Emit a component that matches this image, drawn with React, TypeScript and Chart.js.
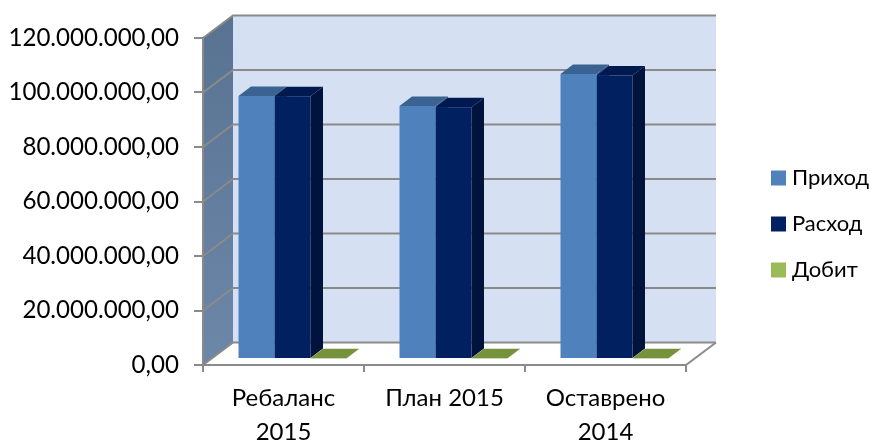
import React, { useEffect, useRef } from "react";
import { Chart, registerables } from "chart.js";

Chart.register(...registerables);

const categories = [["Ребаланс", "2015"], "План 2015", ["Оставрено", "2014"]];
const income = [96500000, 92800000, 104600000];
const expense = [96400000, 92400000, 104000000];
const profit = [300000, 300000, 300000];
const FONT = "Lato, 'Open Sans', sans-serif";
const GRID = "#8a8a8a";

const shift = { x: 9, y: -6 };
const depth = { x: 12.5, y: -9.5 };
const wall = { x: 30, y: -22.5 };
const topColors = ["#3a6391", "#001a4f", "#76923c"];
const sideColors = ["#35587f", "#00133d", "#5f7a30"];

const scene = {
  id: "scene",
  beforeDraw(chart: any) {
    const { ctx, chartArea: a, scales } = chart;
    const y = scales.y;
    const y0 = y.getPixelForValue(0);
    const yTop = y.getPixelForValue(120000000);
    ctx.save();
    // back wall
    ctx.fillStyle = "#d6e0f3";
    ctx.fillRect(a.left + wall.x, yTop + wall.y, a.right - a.left, y0 - yTop);
    // side wall
    const g = ctx.createLinearGradient(0, yTop + wall.y, 0, y0);
    g.addColorStop(0, "#587392");
    g.addColorStop(1, "#6c87a8");
    ctx.fillStyle = g;
    ctx.beginPath();
    ctx.moveTo(a.left, yTop);
    ctx.lineTo(a.left + wall.x, yTop + wall.y);
    ctx.lineTo(a.left + wall.x, y0 + wall.y);
    ctx.lineTo(a.left, y0);
    ctx.closePath();
    ctx.fill();
    // grid on side and back walls
    ctx.strokeStyle = GRID;
    ctx.lineWidth = 2;
    for (const t of y.ticks) {
      const p = y.getPixelForValue(t.value);
      ctx.beginPath();
      ctx.moveTo(a.left, p);
      ctx.lineTo(a.left + wall.x, p + wall.y);
      ctx.lineTo(a.right + wall.x, p + wall.y);
      ctx.stroke();
    }
    // floor right edge
    ctx.beginPath();
    ctx.moveTo(a.right, y0);
    ctx.lineTo(a.right + wall.x, y0 + wall.y);
    ctx.stroke();
    ctx.restore();
  },
  afterLayout(chart: any) {
    const l = chart.legend;
    if (l) {
      l.left = 752;
      l.right = 870;
      l.top = 143;
      l.bottom = 430;
    }
  },
  beforeDatasetsDraw(chart: any) {
    const { ctx } = chart;
    ctx.save();
    ctx.translate(shift.x, shift.y);
    chart.data.datasets.forEach((_: any, i: number) => {
      chart.getDatasetMeta(i).data.forEach((bar: any) => {
        const l = bar.x - bar.width / 2;
        const r = bar.x + bar.width / 2;
        ctx.fillStyle = sideColors[i];
        ctx.beginPath();
        ctx.moveTo(r, bar.y);
        ctx.lineTo(r + depth.x, bar.y + depth.y);
        ctx.lineTo(r + depth.x, bar.base + depth.y);
        ctx.lineTo(r, bar.base);
        ctx.closePath();
        ctx.fill();
        ctx.fillStyle = topColors[i];
        ctx.beginPath();
        ctx.moveTo(l, bar.y);
        ctx.lineTo(l + depth.x, bar.y + depth.y);
        ctx.lineTo(r + depth.x, bar.y + depth.y);
        ctx.lineTo(r, bar.y);
        ctx.closePath();
        ctx.fill();
      });
    });
  },
  afterDatasetsDraw(chart: any) {
    chart.ctx.restore();
  },
};

export default function App() {
  const ref = useRef<HTMLCanvasElement>(null);
  useEffect(() => {
    const chart = new Chart(ref.current!, {
      type: "bar",
      data: {
        labels: categories as any,
        datasets: [
          { label: "Приход", data: income, backgroundColor: "#4f81bd", clip: false as any },
          { label: "Расход", data: expense, backgroundColor: "#002060", clip: false as any },
          { label: "Добит", data: profit, backgroundColor: "#9bbb59", clip: false as any },
        ],
      },
      options: {
        responsive: false,
        animation: false,
        layout: { padding: { left: 0, right: 84, top: 38, bottom: 0 } },
        datasets: { bar: { barPercentage: 1, categoryPercentage: 108 / 161 } },
        scales: {
          x: {
            afterFit: (s: any) => { s.height = 76; },
            border: { color: GRID, width: 2 },
            grid: { drawOnChartArea: false, color: GRID, lineWidth: 2, tickLength: 7 },
            ticks: {
              color: "#000",
              padding: 9,
              maxRotation: 0,
              font: { family: FONT, size: 24, lineHeight: 1.42 },
            },
          },
          y: {
            min: 0,
            max: 120000000,
            afterFit: (s: any) => { s.width = 203; },
            border: { color: GRID, width: 2 },
            grid: { drawOnChartArea: false, color: GRID, lineWidth: 2, tickLength: 9 },
            ticks: {
              stepSize: 20000000,
              color: "#000",
              padding: 15,
              font: { family: FONT, size: 24.1 },
              callback: (v: any) =>
                Number(v).toLocaleString("de-DE", { minimumFractionDigits: 2, maximumFractionDigits: 2 }),
            },
          },
        },
        plugins: {
          legend: {
            position: "right",
            align: "start",
            maxWidth: 100,
            labels: {
              boxWidth: 5,
              boxHeight: 5,
              padding: 24,
              color: "#000",
              font: { family: FONT, size: 22 },
              generateLabels: (c: any) =>
                Chart.defaults.plugins.legend.labels.generateLabels(c).map((item: any) => ({
                  ...item,
                  strokeStyle: item.fillStyle,
                  lineWidth: 10,
                })),
            },
          },
          tooltip: { enabled: false },
        },
      },
      plugins: [scene],
    });
    return () => chart.destroy();
  }, []);
  return (
    <canvas
      ref={ref}
      width={870}
      height={441}
      style={{ position: "fixed", left: 0, top: 0, display: "block" }}
    />
  );
}
